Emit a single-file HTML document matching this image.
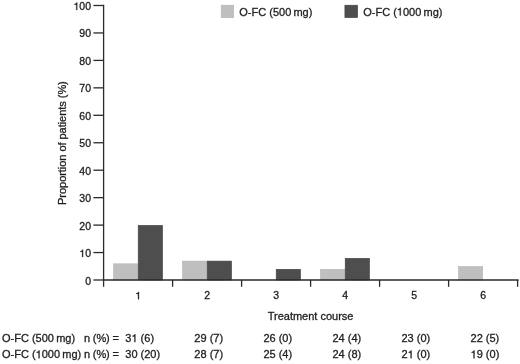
<!DOCTYPE html>
<html><head><meta charset="utf-8"><style>
html,body{margin:0;padding:0;background:#fff;}
svg{display:block;will-change:transform;}
text{font-family:"Liberation Sans",sans-serif;fill:#1e1e1e;stroke:#1e1e1e;stroke-width:0.3px;}
.h{fill:none;stroke:none;}
</style></head><body>
<svg width="520" height="364" viewBox="0 0 520 364">
<rect x="113.50" y="263.83" width="24.2" height="16.17" fill="#bfbfbf" stroke="#b4b4b4" stroke-width="0.6"/>
<rect x="138.20" y="225.40" width="24.3" height="54.60" fill="#4e4e4e" stroke="#3e3e3e" stroke-width="0.6"/>
<rect x="182.50" y="261.09" width="24.2" height="18.91" fill="#bfbfbf" stroke="#b4b4b4" stroke-width="0.6"/>
<rect x="207.20" y="261.09" width="24.3" height="18.91" fill="#4e4e4e" stroke="#3e3e3e" stroke-width="0.6"/>
<rect x="276.20" y="269.32" width="24.3" height="10.68" fill="#4e4e4e" stroke="#3e3e3e" stroke-width="0.6"/>
<rect x="320.50" y="269.32" width="24.2" height="10.68" fill="#bfbfbf" stroke="#b4b4b4" stroke-width="0.6"/>
<rect x="345.20" y="258.34" width="24.3" height="21.66" fill="#4e4e4e" stroke="#3e3e3e" stroke-width="0.6"/>
<rect x="458.50" y="266.57" width="24.2" height="13.43" fill="#bfbfbf" stroke="#b4b4b4" stroke-width="0.6"/>
<line x1="103.6" y1="4.8" x2="103.6" y2="286.8" stroke="#2a2a2a" stroke-width="1.3"/>
<line x1="103.6" y1="280.0" x2="518.6" y2="280.0" stroke="#2a2a2a" stroke-width="1.3"/>
<line x1="93.4" y1="280.00" x2="103.6" y2="280.00" stroke="#2a2a2a" stroke-width="1.3"/>
<line x1="93.4" y1="252.55" x2="103.6" y2="252.55" stroke="#2a2a2a" stroke-width="1.3"/>
<line x1="93.4" y1="225.10" x2="103.6" y2="225.10" stroke="#2a2a2a" stroke-width="1.3"/>
<line x1="93.4" y1="197.65" x2="103.6" y2="197.65" stroke="#2a2a2a" stroke-width="1.3"/>
<line x1="93.4" y1="170.20" x2="103.6" y2="170.20" stroke="#2a2a2a" stroke-width="1.3"/>
<line x1="93.4" y1="142.75" x2="103.6" y2="142.75" stroke="#2a2a2a" stroke-width="1.3"/>
<line x1="93.4" y1="115.30" x2="103.6" y2="115.30" stroke="#2a2a2a" stroke-width="1.3"/>
<line x1="93.4" y1="87.85" x2="103.6" y2="87.85" stroke="#2a2a2a" stroke-width="1.3"/>
<line x1="93.4" y1="60.40" x2="103.6" y2="60.40" stroke="#2a2a2a" stroke-width="1.3"/>
<line x1="93.4" y1="32.95" x2="103.6" y2="32.95" stroke="#2a2a2a" stroke-width="1.3"/>
<line x1="93.4" y1="5.50" x2="103.6" y2="5.50" stroke="#2a2a2a" stroke-width="1.3"/>
<line x1="172.60" y1="280.0" x2="172.60" y2="286.8" stroke="#2a2a2a" stroke-width="1.3"/>
<line x1="241.60" y1="280.0" x2="241.60" y2="286.8" stroke="#2a2a2a" stroke-width="1.3"/>
<line x1="310.60" y1="280.0" x2="310.60" y2="286.8" stroke="#2a2a2a" stroke-width="1.3"/>
<line x1="379.60" y1="280.0" x2="379.60" y2="286.8" stroke="#2a2a2a" stroke-width="1.3"/>
<line x1="448.60" y1="280.0" x2="448.60" y2="286.8" stroke="#2a2a2a" stroke-width="1.3"/>
<line x1="517.60" y1="280.0" x2="517.60" y2="286.8" stroke="#2a2a2a" stroke-width="1.3"/>
<rect x="221.2" y="5.2" width="12.5" height="12.4" fill="#bfbfbf" stroke="#b4b4b4" stroke-width="0.6"/>
<rect x="344.9" y="5.2" width="12.7" height="12.4" fill="#4e4e4e" stroke="#3e3e3e" stroke-width="0.6"/>
<text x="91.00" y="284.50" font-size="10.5" text-anchor="end">0</text>
<text x="91.00" y="257.05" font-size="10.5" text-anchor="end"><tspan class="h">1</tspan>0</text>
<text x="91.00" y="229.60" font-size="10.5" text-anchor="end">20</text>
<text x="91.00" y="202.15" font-size="10.5" text-anchor="end">30</text>
<text x="91.00" y="174.70" font-size="10.5" text-anchor="end">40</text>
<text x="91.00" y="147.25" font-size="10.5" text-anchor="end">50</text>
<text x="91.00" y="119.80" font-size="10.5" text-anchor="end">60</text>
<text x="91.00" y="92.35" font-size="10.5" text-anchor="end">70</text>
<text x="91.00" y="64.90" font-size="10.5" text-anchor="end">80</text>
<text x="91.00" y="37.45" font-size="10.5" text-anchor="end">90</text>
<text x="91.00" y="10.00" font-size="10.5" text-anchor="end"><tspan class="h">1</tspan>00</text>
<text x="138.10" y="299.30" font-size="10.5" text-anchor="middle"><tspan class="h">1</tspan></text>
<text x="207.10" y="299.30" font-size="10.5" text-anchor="middle">2</text>
<text x="276.10" y="299.30" font-size="10.5" text-anchor="middle">3</text>
<text x="345.10" y="299.30" font-size="10.5" text-anchor="middle">4</text>
<text x="414.10" y="299.30" font-size="10.5" text-anchor="middle">5</text>
<text x="483.10" y="299.30" font-size="10.5" text-anchor="middle">6</text>
<text x="239.30" y="15.50" font-size="11">O-FC (500 mg)</text>
<text x="363.20" y="15.50" font-size="11">O-FC (<tspan class="h">1</tspan>000 mg)</text>
<text x="0.00" y="0.00" font-size="11" text-anchor="middle" transform="translate(65.9,143.1) rotate(-90)" letter-spacing="-0.04">Proportion of patients (%)</text>
<text x="310.60" y="320.20" font-size="11" text-anchor="middle">Treatment course</text>
<text x="2.00" y="342.10" font-size="11">O-FC (500 mg)</text>
<text x="2.00" y="358.30" font-size="11">O-FC (<tspan class="h">1</tspan>000 mg)</text>
<text x="84.00" y="342.10" font-size="11" letter-spacing="-0.15">n (%) =</text>
<text x="84.00" y="358.30" font-size="11" letter-spacing="-0.15">n (%) =</text>
<text x="125.30" y="342.10" font-size="11">3<tspan class="h">1</tspan> (6)</text>
<text x="125.30" y="358.30" font-size="11">30 (20)</text>
<text x="194.35" y="342.10" font-size="11">29 (7)</text>
<text x="194.35" y="358.30" font-size="11">28 (7)</text>
<text x="263.40" y="342.10" font-size="11">26 (0)</text>
<text x="263.40" y="358.30" font-size="11">25 (4)</text>
<text x="332.45" y="342.10" font-size="11">24 (4)</text>
<text x="332.45" y="358.30" font-size="11">24 (8)</text>
<text x="401.50" y="342.10" font-size="11">23 (0)</text>
<text x="401.50" y="358.30" font-size="11">2<tspan class="h">1</tspan> (0)</text>
<text x="470.55" y="342.10" font-size="11">22 (5)</text>
<text x="470.55" y="358.30" font-size="11"><tspan class="h">1</tspan>9 (0)</text>
<g fill="#1e1e1e" stroke="#1e1e1e" stroke-width="0.3">
<path d="M83.08 257.05 L83.08 249.67 L82.36 249.67 C82.17 250.46 81.75 250.85 80.37 250.98 L80.37 251.69 L82.16 251.69 L82.16 257.05Z"/>
<path d="M77.24 10.00 L77.24 2.62 L76.51 2.62 C76.32 3.41 75.90 3.81 74.53 3.93 L74.53 4.64 L76.31 4.64 L76.31 10.00Z"/>
<path d="M138.95 299.30 L138.95 291.92 L138.22 291.92 C138.03 292.71 137.61 293.10 136.24 293.23 L136.24 293.94 L138.02 293.94 L138.02 299.30Z"/>
<path d="M400.74 15.50 L400.74 7.77 L399.98 7.77 C399.79 8.59 399.35 9.01 397.90 9.14 L397.90 9.89 L399.77 9.89 L399.77 15.50Z"/>
<path d="M39.54 358.30 L39.54 350.57 L38.78 350.57 C38.59 351.39 38.15 351.81 36.70 351.94 L36.70 352.69 L38.57 352.69 L38.57 358.30Z"/>
<path d="M135.36 342.10 L135.36 334.37 L134.60 334.37 C134.40 335.19 133.96 335.61 132.52 335.74 L132.52 336.49 L134.39 336.49 L134.39 342.10Z"/>
<path d="M411.56 358.30 L411.56 350.57 L410.80 350.57 C410.60 351.39 410.16 351.81 408.72 351.94 L408.72 352.69 L410.59 352.69 L410.59 358.30Z"/>
<path d="M474.50 358.30 L474.50 350.57 L473.74 350.57 C473.54 351.39 473.10 351.81 471.66 351.94 L471.66 352.69 L473.53 352.69 L473.53 358.30Z"/>
</g>
</svg>
</body></html>
